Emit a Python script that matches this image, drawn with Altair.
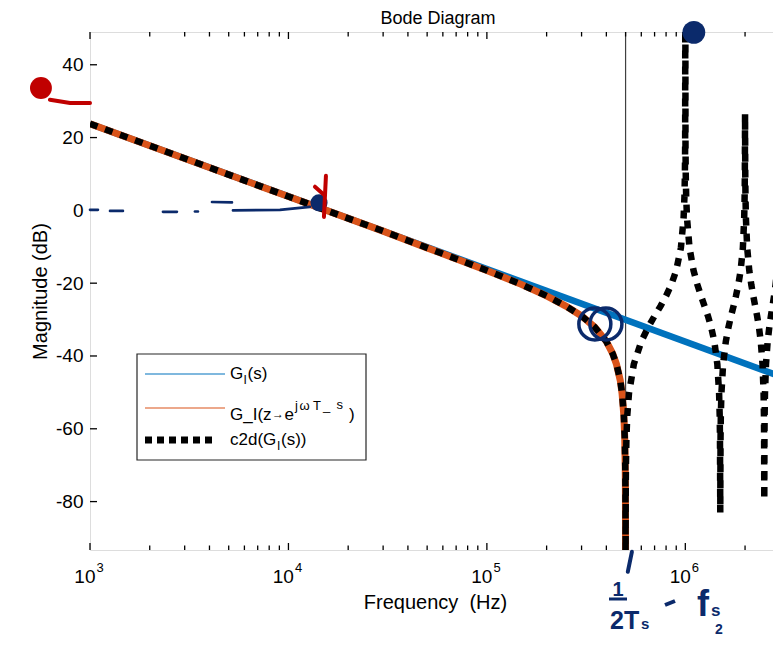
import altair as alt
import pandas as pd

FONT = "Liberation Sans"
BLUE = "#0072BD"
ORANGE = "#D95319"
NAVY = "#0B2A6B"
RED = "#C00000"
W, H = 690, 518

# ---------------- data ----------------
# G_I(s): straight -20 dB/dec line
gs_freq = [1e3, 3e6]
gs_db = [23.8, -45.6]

# G_I(z -> e^{jwTs}) : shown up to Nyquist (5e5 Hz)
gz_freq = [1e3, 1e4, 3e4, 5e4, 1e5, 1.5e5, 2e5, 2.5e5, 3e5, 3.5e5, 4e5, 4.3e5,
           4.5e5, 4.7e5, 4.8e5, 4.9e5, 4.95e5, 4.98e5, 4.99e5, 4.997e5, 5e5]
gz_db = [23.8, 3.8, -5.7, -10.3, -16.5, -20.4, -23.5, -26.3, -29.0, -32.1, -36.0, -39.3,
         -42.3, -46.7, -50.3, -56.3, -62.3, -70.3, -76.4, -86.8, -120.0]

# c2d(G_I(s)) above Nyquist (below Nyquist it lies on the orange curve)
c2d_hi_freq = [5.003e5, 5.01e5, 5.02e5, 5.05e5, 5.1e5, 5.2e5, 5.5e5, 6e5, 6.5e5, 7e5,
               7.5e5, 8e5, 8.5e5, 9e5, 9.5e5, 9.8e5, 9.9e5, 9.95e5, 9.98e5, 1e6,
               1.002e6, 1.005e6, 1.01e6, 1.02e6, 1.05e6, 1.1e6, 1.15e6, 1.2e6, 1.25e6, 1.3e6,
               1.35e6, 1.4e6, 1.45e6, 1.48e6, 1.49e6, 1.495e6, 1.5e6,
               1.505e6, 1.51e6, 1.52e6, 1.55e6, 1.6e6, 1.65e6, 1.7e6, 1.75e6, 1.8e6, 1.85e6,
               1.9e6, 1.95e6, 1.98e6, 1.99e6, 1.995e6, 2e6,
               2.005e6, 2.01e6, 2.02e6, 2.05e6, 2.1e6, 2.15e6, 2.2e6, 2.25e6, 2.3e6, 2.35e6,
               2.4e6, 2.45e6, 2.48e6, 2.49e6, 2.495e6, 2.5e6,
               2.505e6, 2.51e6, 2.52e6, 2.55e6, 2.6e6, 2.65e6, 2.7e6, 2.75e6, 2.8e6, 2.85e6,
               2.9e6, 2.95e6, 2.98e6, 2.99e6, 2.995e6, 3e6]
c2d_hi_db = [-86.8, -76.3, -70.3, -62.3, -56.3, -50.3, -42.3, -36.0, -32.1, -29.0,
             -26.3, -23.5, -20.4, -16.5, -10.3, -2.2, 3.8, 9.8, 17.8, 70.0,
             17.8, 9.8, 3.8, -2.2, -10.3, -16.5, -20.4, -23.5, -26.3, -29.0,
             -32.1, -36.0, -42.3, -50.3, -56.3, -62.3, -83.0,
             -62.3, -56.3, -50.3, -42.3, -36.0, -32.1, -29.0, -26.3, -23.5, -20.4,
             -16.5, -10.3, -2.2, 3.8, 9.8, 26.5,
             9.8, 3.8, -2.2, -10.3, -16.5, -20.4, -23.5, -26.3, -29.0, -32.1,
             -36.0, -42.3, -50.3, -56.3, -62.3, -79.5,
             -62.3, -56.3, -50.3, -42.3, -36.0, -32.1, -29.0, -26.3, -23.5, -20.4,
             -16.5, -10.3, -2.2, 3.8, 9.8, 60.0]
c2d_freq = gz_freq + c2d_hi_freq
c2d_db = gz_db + c2d_hi_db

nyquist_freq = [5e5]

# axis ticks / labels
y_ticks = [-80, -60, -40, -20, 0, 20, 40]
x_major = [1e3, 1e4, 1e5, 1e6]
x_exponents = ["3", "4", "5", "6"]
x_minor = [2e3, 3e3, 4e3, 5e3, 6e3, 7e3, 8e3, 9e3,
           2e4, 3e4, 4e4, 5e4, 6e4, 7e4, 8e4, 9e4,
           2e5, 3e5, 4e5, 5e5, 6e5, 7e5, 8e5, 9e5, 2e6]

# hand-drawn ink (approximate), in data coordinates
ink_dash_seg = ["a", "a", "b", "b", "c", "c", "d", "d", "e", "e", "f", "f", "f"]
ink_dash_freq = [1000, 1097, 1261, 1466, 2331, 2742, 3379, 3499, 4118, 5194, 5253, 9060, 12820]
ink_dash_db = [0.14, 0.14, -0.14, -0.14, -0.4, -0.4, -0.3, -0.3, 2.3, 2.2, 0.0, 0.14, 0.96]

red_ink_seg = ["check", "check", "hook", "hook", "tail", "tail", "tail"]
red_ink_freq = [15450, 15100, 13600, 15100, 628, 793, 1000]
red_ink_db = [9.5, -1.8, 6.5, 4.3, 30.4, 29.5, 29.5]

navy_stroke_freq = [5.38e5, 5.13e5]
navy_stroke_db = [-93.8, -99.3]

red_blob_freq = [566]
red_blob_db = [33.6]
navy_blob_freq = [14260, 1.104e6]
navy_blob_db = [2.06, 48.9]
navy_ring_freq = [3.50e5, 3.98e5]
navy_ring_db = [-31.2, -31.2]

# ---------------- chart ----------------
xs = alt.Scale(type="log", domain=[1e3, 3e6], nice=False)
ys = alt.Scale(domain=[-93.3, 49.0], nice=False, zero=False)

x_axis = alt.Axis(labels=False, ticks=False, domain=False, grid=False,
                  title="Frequency\u00a0 (Hz)", titleFont=FONT, titleFontSize=20,
                  titleFontWeight="normal", titleColor="black",
                  titleX=W / 2, titleY=58, titleBaseline="alphabetic", titleAlign="center")
y_axis = alt.Axis(values=y_ticks, ticks=False, domain=False, grid=False,
                  labelExpr="datum.value < 0 ? '-' + (-datum.value) : '' + datum.value",
                  labelFont=FONT, labelFontSize=19, labelColor="black", labelPadding=7,
                  title="Magnitude (dB)", titleFont=FONT, titleFontSize=20,
                  titleFontWeight="normal", titleColor="black",
                  titleX=-44, titleY=H / 2, titleAngle=-90, titleBaseline="alphabetic",
                  titleAlign="center")

X = alt.X("f:Q", scale=xs, axis=x_axis)
Y = alt.Y("db:Q", scale=ys, axis=y_axis)
one = alt.Data(values=[{"k": 0}])


def df(f, d, **extra):
    data = {"f": f, "db": d}
    data.update(extra)
    return pd.DataFrame(data)


def txt(s, x, y, size, color="black", align="left", weight="normal"):
    return alt.Chart(one).mark_text(
        text=s, align=align, baseline="alphabetic", fontSize=size, font=FONT,
        color=color, fontWeight=weight
    ).encode(x=alt.value(x), y=alt.value(y))


def seg(x1, y1, x2, y2, color, width, dash=None):
    kw = dict(color=color, strokeWidth=width)
    if dash:
        kw["strokeDash"] = dash
    return alt.Chart(one).mark_rule(**kw).encode(
        x=alt.value(x1), y=alt.value(y1), x2=alt.value(x2), y2=alt.value(y2))


nyq = alt.Chart(df(nyquist_freq, [0])).mark_rule(color="#404040", strokeWidth=1.2).encode(x=X)

blue = alt.Chart(df(gs_freq, gs_db)).mark_line(color=BLUE, strokeWidth=6.5, clip=True).encode(x=X, y=Y)
orange = alt.Chart(df(gz_freq, gz_db)).mark_line(color=ORANGE, strokeWidth=7, clip=True).encode(x=X, y=Y)
black = alt.Chart(df(c2d_freq, c2d_db)).mark_line(
    color="black", strokeWidth=6.5, strokeDash=[8, 8], clip=True).encode(x=X, y=Y)

# inward ticks
tick_major_x = pd.DataFrame({"f": x_major})
tick_minor_x = pd.DataFrame({"f": x_minor})
tick_y = pd.DataFrame({"db": y_ticks})
tk = dict(color="black", strokeWidth=1.3)
ticks = [
    alt.Chart(tick_major_x).mark_rule(**tk).encode(x=X, y=alt.value(H), y2=alt.value(H - 7)),
    alt.Chart(tick_major_x).mark_rule(**tk).encode(x=X, y=alt.value(0), y2=alt.value(7)),
    alt.Chart(tick_minor_x).mark_rule(**tk).encode(x=X, y=alt.value(H), y2=alt.value(H - 4.5)),
    alt.Chart(tick_minor_x).mark_rule(**tk).encode(x=X, y=alt.value(0), y2=alt.value(4.5)),
    alt.Chart(tick_y).mark_rule(**tk).encode(y=Y, x=alt.value(0), x2=alt.value(7)),
    alt.Chart(tick_y).mark_rule(**tk).encode(y=Y, x=alt.value(W), x2=alt.value(W - 7)),
]

xlab = pd.DataFrame({"f": x_major, "exp": x_exponents})
xlabels = [
    alt.Chart(xlab).mark_text(text="10", align="right", dx=5.5, baseline="alphabetic",
                              fontSize=19, font=FONT, color="black").encode(x=X, y=alt.value(551)),
    alt.Chart(xlab).mark_text(align="left", dx=6.5, baseline="alphabetic",
                              fontSize=13, font=FONT, color="black").encode(
        x=X, y=alt.value(540), text="exp:N"),
]

title = txt("Bode Diagram", 348, -8, 18, align="center")

# hand-drawn ink
ink = [
    alt.Chart(df(ink_dash_freq, ink_dash_db, seg=ink_dash_seg)).mark_line(
        color=NAVY, strokeWidth=2.6, strokeCap="round").encode(x=X, y=Y, detail="seg:N"),
    alt.Chart(df(navy_blob_freq, navy_blob_db, s=[290, 520])).mark_point(
        shape="circle", filled=True, color=NAVY, opacity=1).encode(
        x=X, y=Y, size=alt.Size("s:Q", scale=None, legend=None)),
    alt.Chart(df(red_ink_freq, red_ink_db, seg=red_ink_seg)).mark_line(
        color=RED, strokeWidth=4, strokeCap="round").encode(x=X, y=Y, detail="seg:N"),
    alt.Chart(df(red_blob_freq, red_blob_db)).mark_point(
        shape="circle", filled=True, color=RED, size=480, opacity=1).encode(x=X, y=Y),
    alt.Chart(df(navy_ring_freq, navy_ring_db)).mark_point(
        shape="circle", filled=False, color=NAVY, size=1024, strokeWidth=3.5, opacity=1).encode(x=X, y=Y),
    alt.Chart(df(navy_stroke_freq, navy_stroke_db)).mark_line(
        color=NAVY, strokeWidth=4, strokeCap="round").encode(x=X, y=Y),
    txt("1", 528, 564, 20, NAVY, "center", "bold"),
    seg(519, 567, 537, 567, NAVY, 3),
    txt("2T", 520, 597, 25, NAVY, "left", "bold"),
    txt("s", 551, 597, 15, NAVY, "left", "bold"),
    seg(575, 573, 585, 569, NAVY, 4),
    txt("f", 613, 584, 36, NAVY, "center", "bold"),
    txt("s", 621, 584, 17, NAVY, "left", "bold"),
    txt("2", 629, 602, 14, NAVY, "center", "bold"),
]

# legend (drawn by hand, MATLAB style)
legend = [
    alt.Chart(one).mark_rect(fill="white", stroke="#262626", strokeWidth=1.2).encode(
        x=alt.value(47), x2=alt.value(276), y=alt.value(322), y2=alt.value(428)),
    seg(55, 342, 135, 342, BLUE, 1.2),
    seg(55, 376, 135, 376, ORANGE, 1.2),
    seg(55, 408, 124, 408, "black", 7, [7, 5]),
    txt("G", 140, 347, 17), txt("I", 153.5, 352, 12), txt("(s)", 157.5, 347, 17),
    txt("G_I(z", 140, 388, 17), txt("\u2192", 182, 386, 12), txt("e", 194.5, 388, 17),
    txt("j", 205, 378, 13), txt("\u03c9", 209.5, 378, 13), txt("T", 223, 378, 13),
    txt("_", 233, 378, 13), txt("s", 246.5, 377, 13), txt(")", 259, 388, 17),
    txt("c2d(G", 140, 413, 17), txt("I", 187, 418, 12), txt("(s))", 191, 413, 17),
]

chart = alt.layer(
    nyq, blue, orange, black, *ticks, *xlabels, title, *ink, *legend
).properties(
    width=W, height=H,
    autosize=alt.AutoSizeParams(type="none"),
    padding={"left": 82, "top": 24, "right": -7, "bottom": 87},
).configure_view(stroke="black", strokeWidth=1.5).configure(background="white")

chart.save("out.html", embed_options={"renderer": "svg", "actions": False})
